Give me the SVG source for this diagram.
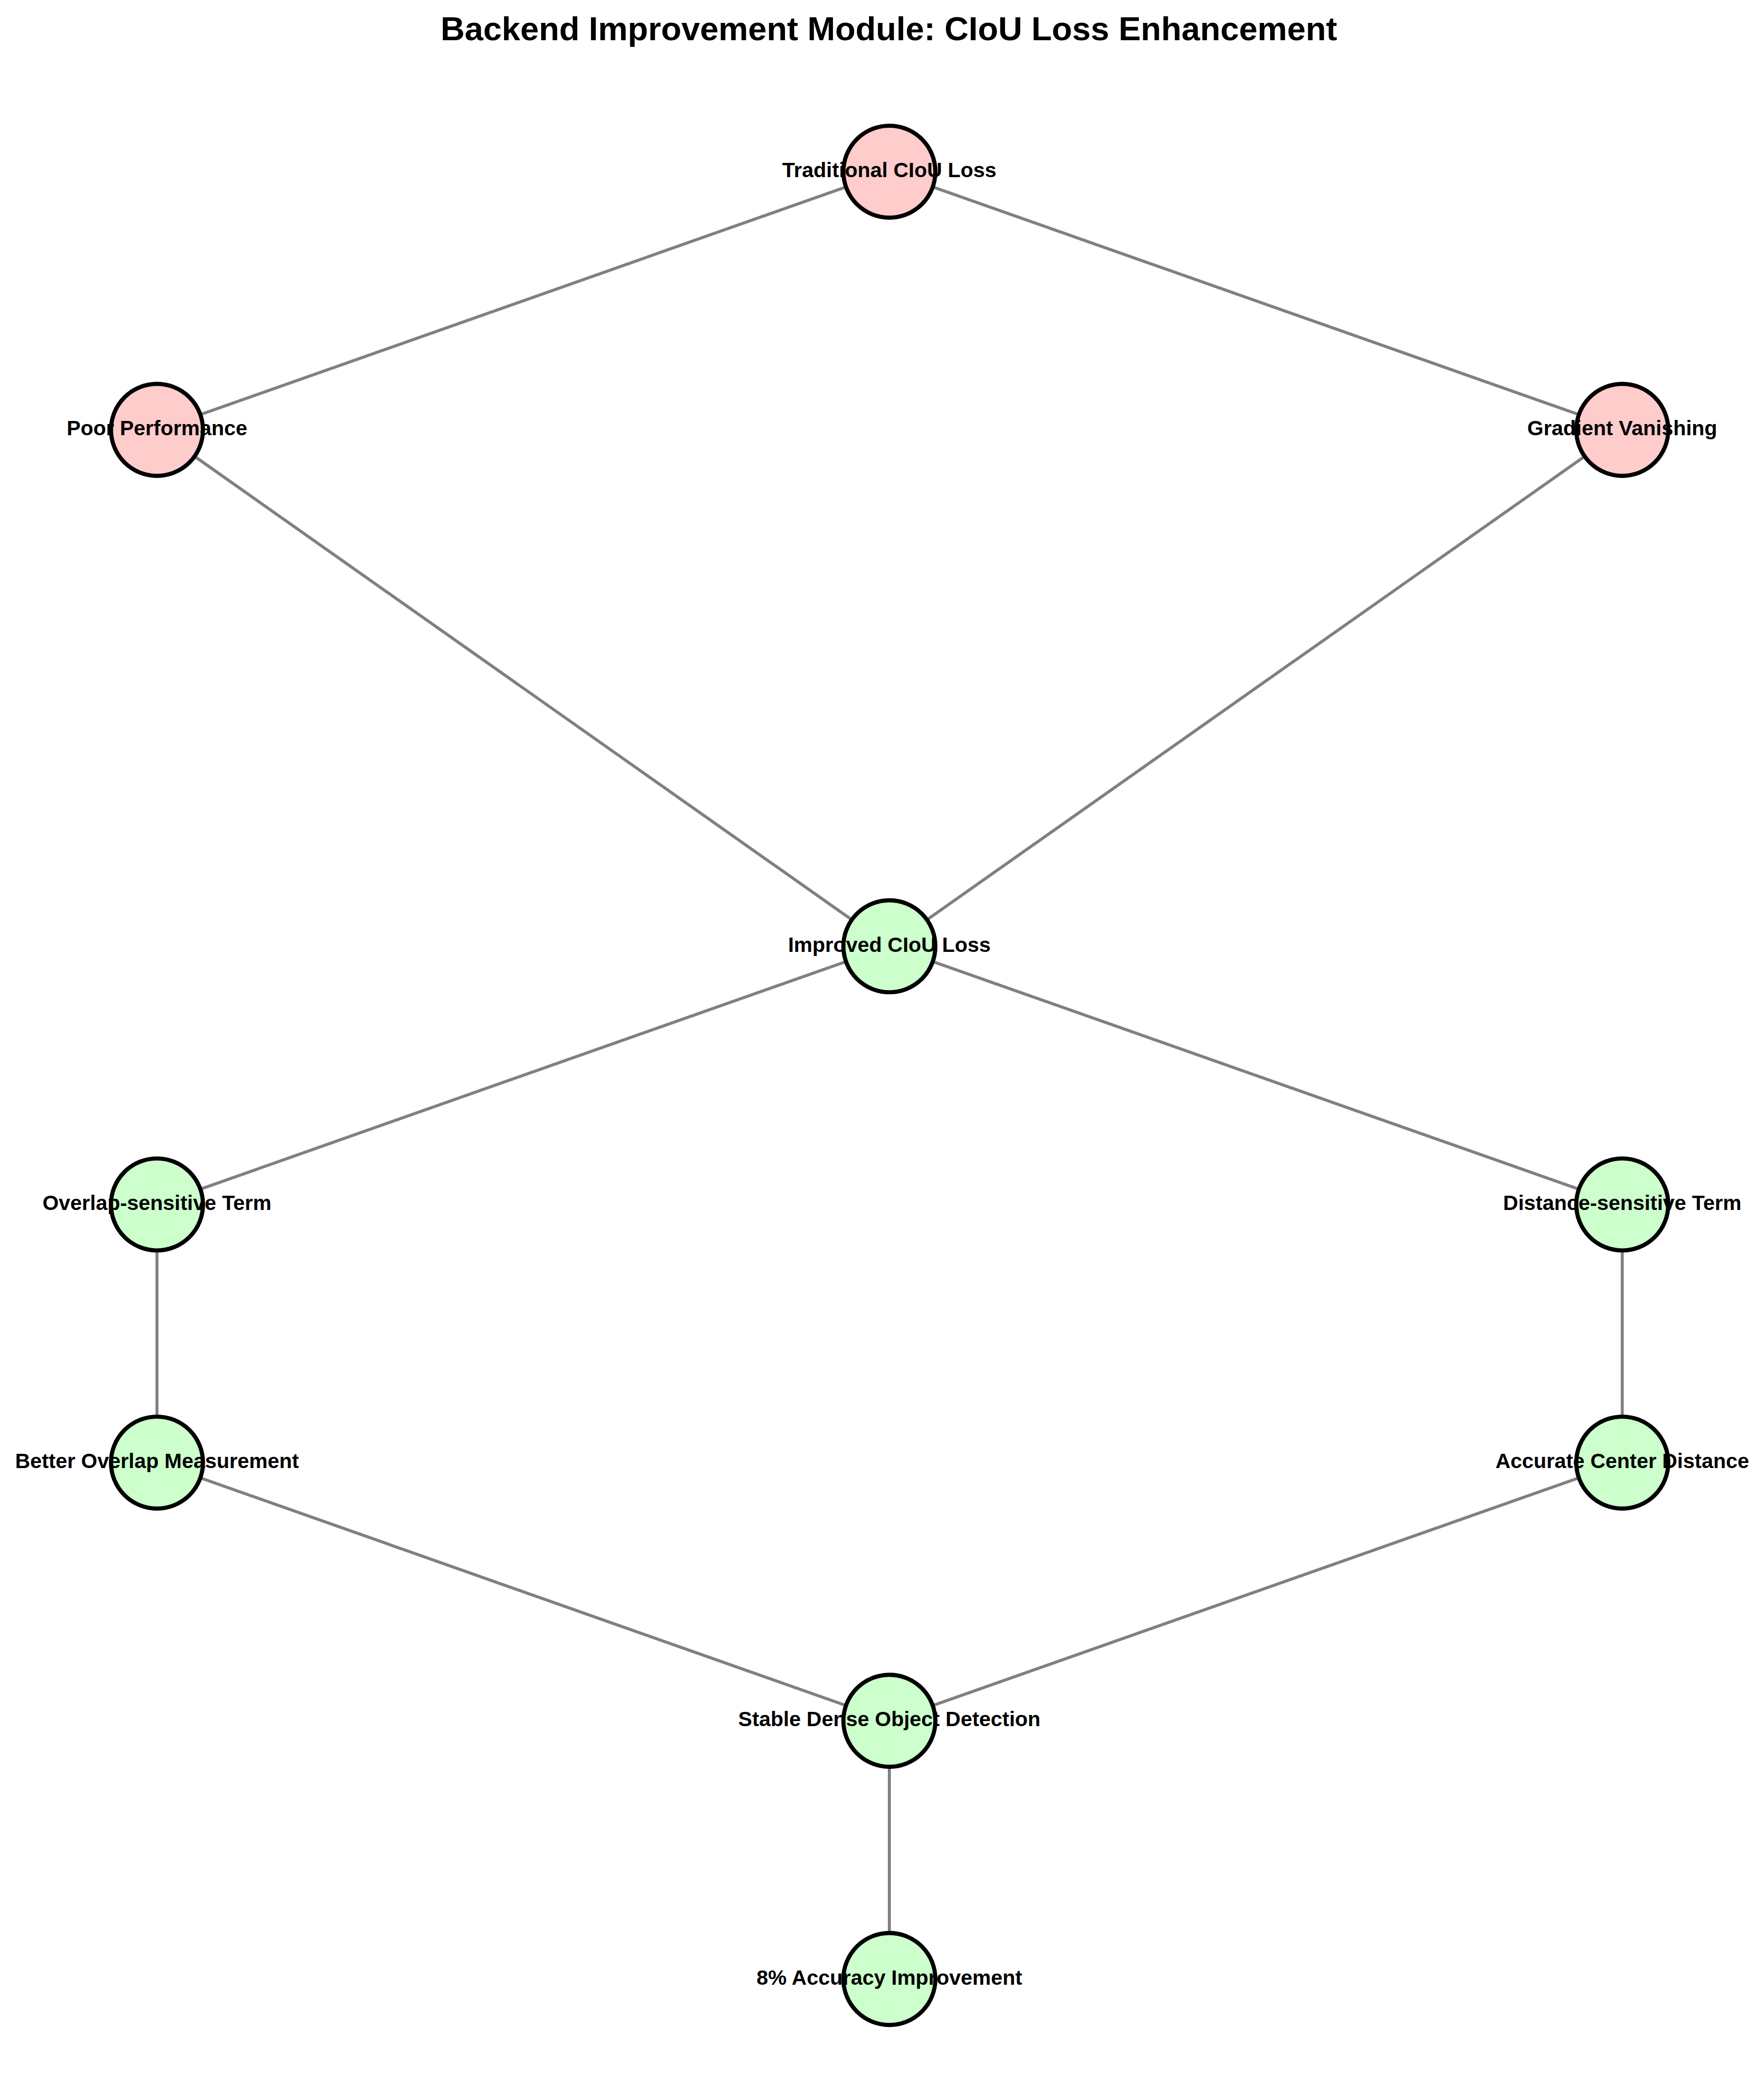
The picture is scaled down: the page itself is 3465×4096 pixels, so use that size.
<svg xmlns="http://www.w3.org/2000/svg" width="3465" height="4096" viewBox="0 0 3465 4096">
<style>
.edge{stroke:#808080;stroke-width:6;fill:none}
.node circle{stroke:#000;stroke-width:8.3}
.bad circle{fill:#ffcccc}
.good circle{fill:#ccffcc}
.node text{font-family:"Liberation Sans",Arial,sans-serif;font-weight:bold;font-size:41.7px;text-anchor:middle;fill:#000}
.title{font-family:"Liberation Sans",Arial,sans-serif;font-weight:bold;font-size:66.7px;text-anchor:middle;fill:#000}
</style>
<rect width="3465" height="4096" fill="#fff"/>
<g transform="scale(0.982)">
<text class="title" x="1778" y="80">Backend Improvement Module: CIoU Loss Enhancement</text>
<g id="edges">
<line class="edge" x1="1779" y1="343.5" x2="314" y2="860"/>
<line class="edge" x1="1779" y1="343.5" x2="3245" y2="860"/>
<line class="edge" x1="314" y1="860" x2="1779" y2="1893"/>
<line class="edge" x1="3245" y1="860" x2="1779" y2="1893"/>
<line class="edge" x1="1779" y1="1893" x2="314" y2="2409.5"/>
<line class="edge" x1="1779" y1="1893" x2="3245" y2="2409.5"/>
<line class="edge" x1="314" y1="2409.5" x2="314" y2="2926"/>
<line class="edge" x1="3245" y1="2409.5" x2="3245" y2="2926"/>
<line class="edge" x1="314" y1="2926" x2="1779" y2="3442.5"/>
<line class="edge" x1="3245" y1="2926" x2="1779" y2="3442.5"/>
<line class="edge" x1="1779" y1="3442.5" x2="1779" y2="3959"/>
</g>
<g id="n-traditional" class="node bad"><circle cx="1779" cy="343.5" r="92"/><text x="1779" y="354.5">Traditional CIoU Loss</text></g>
<g id="n-poor" class="node bad"><circle cx="314" cy="860" r="92"/><text x="314" y="871">Poor Performance</text></g>
<g id="n-gradient" class="node bad"><circle cx="3245" cy="860" r="92"/><text x="3245" y="871">Gradient Vanishing</text></g>
<g id="n-improved" class="node good"><circle cx="1779" cy="1893" r="92"/><text x="1779" y="1904">Improved CIoU Loss</text></g>
<g id="n-overlap" class="node good"><circle cx="314" cy="2409.5" r="92"/><text x="314" y="2420.5">Overlap-sensitive Term</text></g>
<g id="n-distance" class="node good"><circle cx="3245" cy="2409.5" r="92"/><text x="3245" y="2420.5">Distance-sensitive Term</text></g>
<g id="n-better" class="node good"><circle cx="314" cy="2926" r="92"/><text x="314" y="2937">Better Overlap Measurement</text></g>
<g id="n-accurate" class="node good"><circle cx="3245" cy="2926" r="92"/><text x="3245" y="2937">Accurate Center Distance</text></g>
<g id="n-stable" class="node good"><circle cx="1779" cy="3442.5" r="92"/><text x="1779" y="3453.5">Stable Dense Object Detection</text></g>
<g id="n-accuracy" class="node good"><circle cx="1779" cy="3959" r="92"/><text x="1779" y="3970">8% Accuracy Improvement</text></g>
</g>
</svg>
